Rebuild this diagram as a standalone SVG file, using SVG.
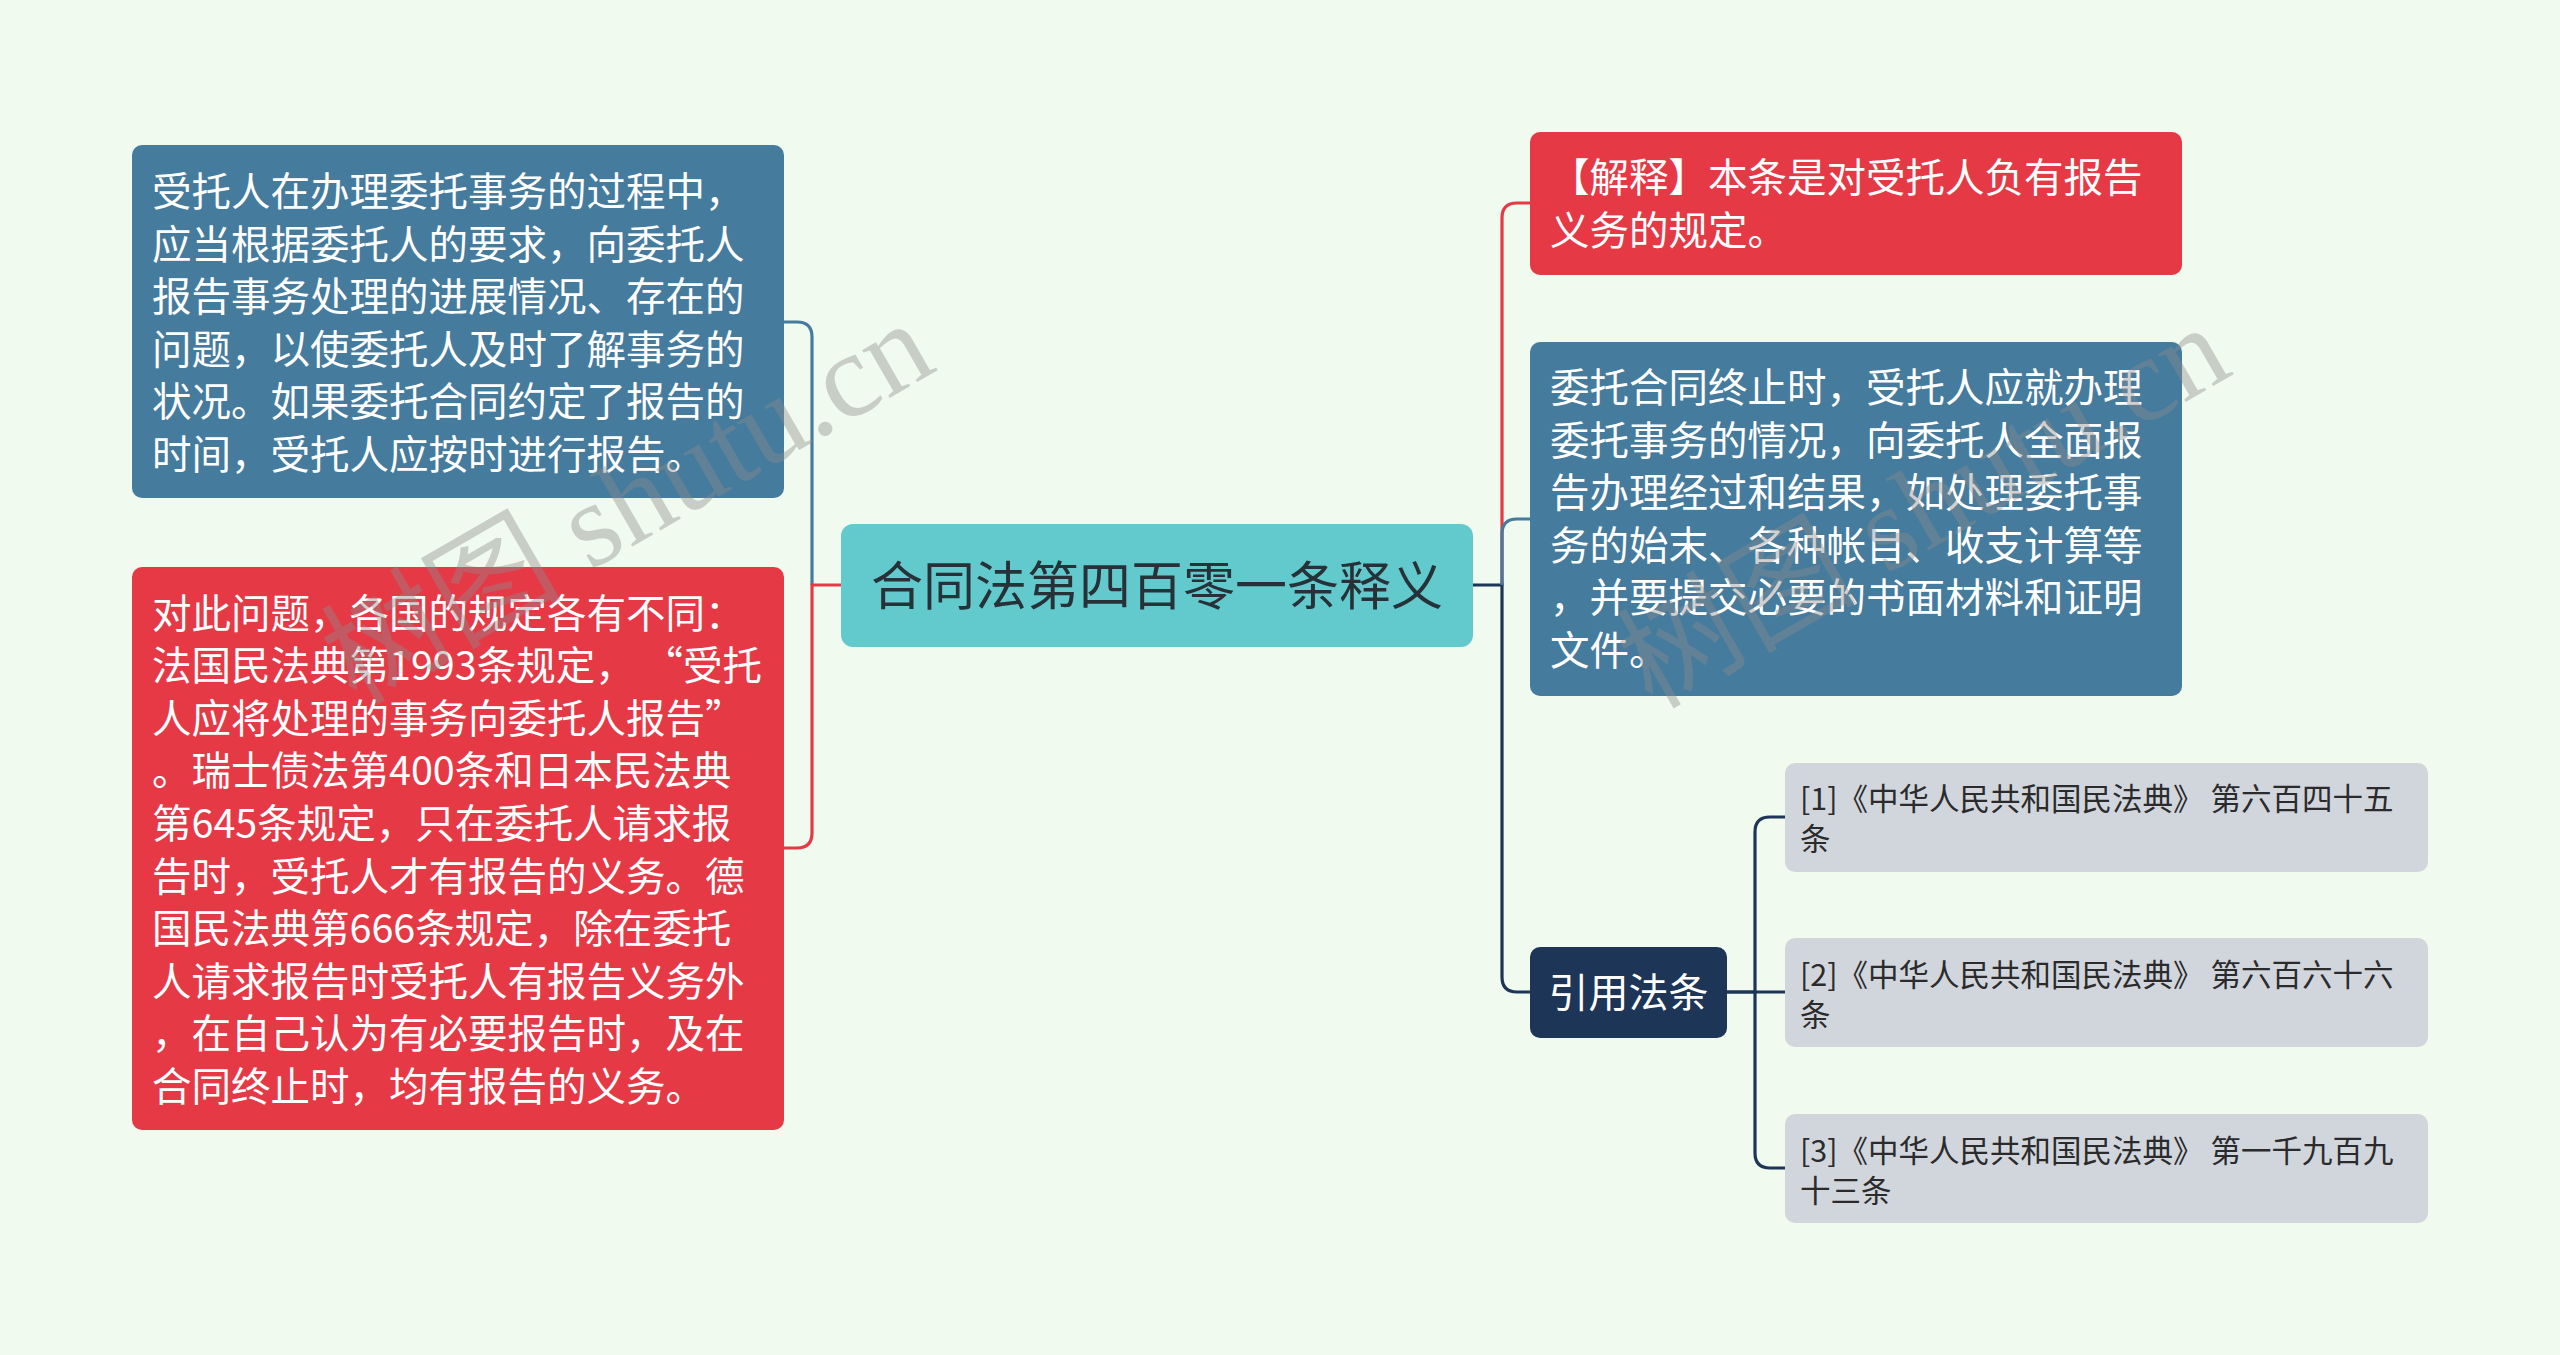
<svg xmlns="http://www.w3.org/2000/svg" width="2560" height="1355" viewBox="0 0 2560 1355">
<style>
.body{font-family:"Noto Sans CJK SC","Noto Sans",sans-serif;font-size:39.5px;fill:#ffffff}
.center{font-family:"Noto Sans CJK SC","Noto Sans",sans-serif;font-size:52px;fill:#263238}
.cite{font-family:"Noto Sans CJK SC","Noto Sans",sans-serif;font-size:30.5px;fill:#2b2b2b}
.conn{fill:none;stroke-width:3.2}
.wm{font-family:"Liberation Serif","Noto Sans CJK SC",serif;font-size:120px;fill:#8c8c8c;opacity:0.4}
</style>
<rect x="0" y="0" width="2560" height="1355" fill="#f1faee"/>
<g id="connectors">
<path class="conn" stroke="#457b9d" d="M812 585 V337 Q812 322 797 322 H784"/>
<path class="conn" stroke="#e63946" d="M841 585 H812 V833 Q812 848 797 848 H784"/>
<path class="conn" stroke="#e63946" d="M1502 585 V218 Q1502 203 1517 203 H1530"/>
<path class="conn" stroke="#1d3557" d="M1473 585 H1502 V977 Q1502 992 1517 992 H1530"/>
<path class="conn" stroke="#457b9d" d="M1502 585 V534 Q1502 519 1517 519 H1530"/>
<path class="conn" stroke="#1d3557" d="M1727 992 H1755 V832 Q1755 817 1770 817 H1785"/>
<path class="conn" stroke="#1d3557" d="M1727 992 H1785"/>
<path class="conn" stroke="#1d3557" d="M1755 992 V1153 Q1755 1168 1770 1168 H1785"/>
</g>
<g id="root">
<rect x="841" y="524" width="632" height="123" rx="12" fill="#62c9cc"/>
<text class="center" x="1157" y="605" text-anchor="middle">合同法第四百零一条释义</text>
</g>
<g id="left-1">
<rect x="132" y="145" width="652" height="353" rx="10" fill="#457b9d"/>
<text class="body" x="152" y="206">
<tspan x="152">受托人在办理委托事务的过程中，</tspan>
<tspan x="152" dy="52.5">应当根据委托人的要求，向委托人</tspan>
<tspan x="152" dy="52.5">报告事务处理的进展情况、存在的</tspan>
<tspan x="152" dy="52.5">问题，以使委托人及时了解事务的</tspan>
<tspan x="152" dy="52.5">状况。如果委托合同约定了报告的</tspan>
<tspan x="152" dy="52.5">时间，受托人应按时进行报告。</tspan>
</text>
</g>
<g id="left-2">
<rect x="132" y="567" width="652" height="563" rx="10" fill="#e63946"/>
<text class="body" x="152" y="627.5">
<tspan x="152">对此问题，各国的规定各有不同：</tspan>
<tspan x="152" dy="52.6">法国民法典第1993条规定， “受托</tspan>
<tspan x="152" dy="52.6">人应将处理的事务向委托人报告”</tspan>
<tspan x="152" dy="52.6">。瑞士债法第400条和日本民法典</tspan>
<tspan x="152" dy="52.6">第645条规定，只在委托人请求报</tspan>
<tspan x="152" dy="52.6">告时，受托人才有报告的义务。德</tspan>
<tspan x="152" dy="52.6">国民法典第666条规定，除在委托</tspan>
<tspan x="152" dy="52.6">人请求报告时受托人有报告义务外</tspan>
<tspan x="152" dy="52.6">，在自己认为有必要报告时，及在</tspan>
<tspan x="152" dy="52.6">合同终止时，均有报告的义务。</tspan>
</text>
</g>
<g id="right-1">
<rect x="1530" y="132" width="652" height="143" rx="10" fill="#e63946"/>
<text class="body" x="1550" y="192">
<tspan x="1550">【解释】本条是对受托人负有报告</tspan>
<tspan x="1550" dy="52.5">义务的规定。</tspan>
</text>
</g>
<g id="right-2">
<rect x="1530" y="342" width="652" height="354" rx="10" fill="#457b9d"/>
<text class="body" x="1550" y="402">
<tspan x="1550">委托合同终止时，受托人应就办理</tspan>
<tspan x="1550" dy="52.5">委托事务的情况，向委托人全面报</tspan>
<tspan x="1550" dy="52.5">告办理经过和结果，如处理委托事</tspan>
<tspan x="1550" dy="52.5">务的始末、各种帐目、收支计算等</tspan>
<tspan x="1550" dy="52.5">，并要提交必要的书面材料和证明</tspan>
<tspan x="1550" dy="52.5">文件。</tspan>
</text>
</g>
<g id="right-3">
<rect x="1530" y="947" width="197" height="91" rx="10" fill="#1d3557"/>
<text class="body" x="1628.5" y="1007" text-anchor="middle" style="font-size:40px">引用法条</text>
</g>
<g id="cite-1">
<rect x="1785" y="763" width="643" height="109" rx="10" fill="#d1d6dd"/>
<text class="cite" x="1800" y="810">
<tspan x="1800">[1]《中华人民共和国民法典》 第六百四十五</tspan>
<tspan x="1800" dy="40">条</tspan>
</text>
</g>
<g id="cite-2">
<rect x="1785" y="938" width="643" height="109" rx="10" fill="#d1d6dd"/>
<text class="cite" x="1800" y="986">
<tspan x="1800">[2]《中华人民共和国民法典》 第六百六十六</tspan>
<tspan x="1800" dy="40">条</tspan>
</text>
</g>
<g id="cite-3">
<rect x="1785" y="1114" width="643" height="109" rx="10" fill="#d1d6dd"/>
<text class="cite" x="1800" y="1162">
<tspan x="1800">[3]《中华人民共和国民法典》 第一千九百九</tspan>
<tspan x="1800" dy="40">十三条</tspan>
</text>
</g>
<g id="watermarks">
<text class="wm" transform="translate(356 706) rotate(-30)">树图 shutu.cn</text>
<text class="wm" transform="translate(1652 710) rotate(-30)">树图 shutu.cn</text>
</g>
</svg>
